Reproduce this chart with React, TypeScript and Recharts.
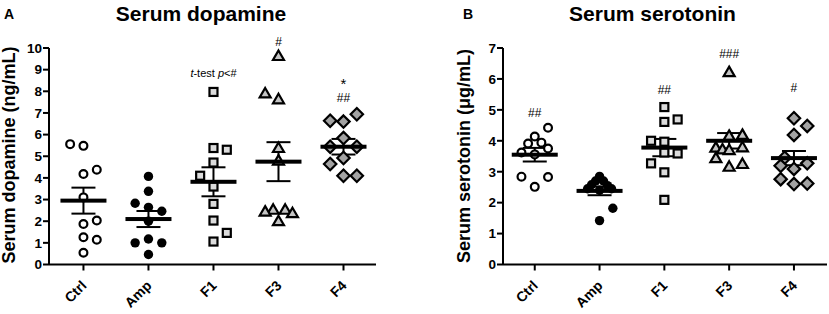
import React from 'react';
import { ScatterChart, Scatter, XAxis, YAxis, ErrorBar, ReferenceDot } from 'recharts';

const FONT = '"Liberation Sans", Arial, Helvetica, sans-serif';

const CATS = ['Ctrl', 'Amp', 'F1', 'F3', 'F4'];

// Panel A: serum dopamine (ng/mL)
const ctrlA = [5.56, 5.48, 4.38, 4.18, 3.1, 2.03, 1.87, 1.26, 1.14, 0.54];
const ctrlASlots = [-1, 0, 1, 0, 0, 1, 0, 0, 1, 0];
const ampA = [4.07, 3.38, 2.83, 2.64, 2.46, 2.0, 1.18, 1.0, 1.0, 0.46];
const ampASlots = [0, 0, -1, 0, 1, 0, 0, -1, 1, 0];
const f1A = [7.97, 5.38, 5.3, 4.71, 4.1, 3.6, 2.8, 2.03, 1.46, 1.06];
const f1ASlots = [0, 0, 1, 0, -1, 0, 0, 0, 1, 0];
const f3A = [9.63, 7.9, 7.63, 5.38, 4.8, 2.53, 2.44, 2.53, 2.37, 2.0];
const f3ASlots = [0, -1, 0, 0, 0, -0.4, -1, 0.5, 1.05, 0];
const f4A = [6.94, 6.64, 6.6, 5.84, 5.44, 5.44, 4.92, 4.64, 4.1, 4.1];
const f4ASlots = [1, -1, 0, 0, -1, 1, 0, -1, 0, 1];
const meanA = [2.95, 2.1, 3.82, 4.75, 5.44];
const semA = [0.6, 0.37, 0.67, 0.9, 0.36];
const yTicksA = [0, 1, 2, 3, 4, 5, 6, 7, 8, 9, 10];
const annCatsA = [2, 3, 4, 4];
const annYA = [8.83, 10.29, 8.37, 7.68];
const annTextA = ['t-test p<#', '#', '*', '##'];

// Panel B: serum serotonin (µg/mL)
const ctrlB = [4.42, 4.14, 3.91, 3.94, 3.62, 3.75, 3.56, 2.84, 2.83, 2.51];
const ctrlBSlots = [1, 0, -0.5, 0.5, -1, 1, 0, -1, 1, 0];
const ampB = [2.85, 2.7, 2.7, 2.58, 2.55, 2.45, 2.45, 2.4, 1.82, 1.42];
const ampBSlots = [0, -0.3, 0.3, -0.6, 0.6, -0.9, 0.9, 0, 1, 0];
const f1B = [5.09, 4.61, 4.69, 4.0, 3.97, 3.62, 3.59, 3.27, 2.98, 2.09];
const f1BSlots = [0, 0, 1, -1, 0, 0, 1, -1, 0, 0];
const f3B = [6.22, 4.19, 4.16, 3.78, 3.72, 3.7, 3.79, 3.44, 3.16, 3.25];
const f3BSlots = [0, 1, 0, -1, -0.5, 0, 1, -1, 0, 1];
const f4B = [4.73, 4.48, 4.19, 3.45, 3.19, 3.09, 3.27, 2.76, 2.6, 2.62];
const f4BSlots = [0, 1, 0, -0.7, -1, 0, 1, -1, 0, 1];
const meanB = [3.55, 2.38, 3.78, 4.0, 3.44];
const semB = [0.22, 0.14, 0.28, 0.25, 0.23];
const yTicksB = [0, 1, 2, 3, 4, 5, 6, 7];
const annCatsB = [0, 2, 3, 4];
const annYB = [4.89, 5.64, 6.81, 5.7];
const annTextB = ['##', '##', '###', '#'];

const SLOT = 0.205;

const toPoints = (cat: number, vals: number[], slots: number[]) =>
  vals.map((v, i) => ({ x: cat + slots[i] * SLOT, y: v }));

const openCircle = (p: any) => (
  <circle cx={p.cx} cy={p.cy} r={3.9} fill="#fff" stroke="#000" strokeWidth={2.2} />
);
const filledCircle = (p: any) => <circle cx={p.cx} cy={p.cy} r={4.7} fill="#000" />;
const square = (p: any) => (
  <rect x={p.cx - 4} y={p.cy - 4} width={8} height={8} fill="#dcdcdc" stroke="#000" strokeWidth={2.2} />
);
const triangle = (p: any) => (
  <polygon
    points={`${p.cx},${p.cy - 5.5} ${p.cx + 5.5},${p.cy + 4} ${p.cx - 5.5},${p.cy + 4}`}
    fill="#c4c4c4"
    stroke="#000"
    strokeWidth={2.2}
    strokeLinejoin="miter"
  />
);
const diamond = (p: any) => (
  <polygon
    points={`${p.cx},${p.cy - 6.2} ${p.cx + 6.2},${p.cy} ${p.cx},${p.cy + 6.2} ${p.cx - 6.2},${p.cy}`}
    fill="#a3a3a3"
    stroke="#000"
    strokeWidth={2.2}
  />
);
const meanBar = (p: any) => <rect x={p.cx - 23} y={p.cy - 2} width={46} height={4} fill="#000" />;

const SHAPES = [openCircle, filledCircle, square, triangle, diamond];

const annShape = (text: string) => (p: any) => {
  const common = {
    x: p.cx,
    y: p.cy,
    textAnchor: 'middle' as const,
    dominantBaseline: 'central' as const,
    fontFamily: FONT,
    fill: '#000',
    fontSize: text === '*' ? 15 : 12,
  };
  if (text.startsWith('t-test')) {
    return (
      <text {...common} fontSize={11}>
        <tspan fontStyle="italic">t</tspan>
        {'-test '}
        <tspan fontStyle="italic">p</tspan>
        {text.slice(8)}
      </text>
    );
  }
  return <text {...common}>{text}</text>;
};

const CatTick = (props: any) => {
  const { x, y, payload } = props;
  const ax = x + 4;
  const ay = y + 14;
  return (
    <text
      x={ax}
      y={ay}
      transform={`rotate(-45, ${ax}, ${ay})`}
      textAnchor="end"
      fontSize={14}
      fontWeight="bold"
      fill="#000"
      fontFamily={FONT}
    >
      {CATS[payload.value]}
    </text>
  );
};

const axisStyle = { stroke: '#000', strokeWidth: 2 };

type PanelProps = {
  groups: { x: number; y: number }[][];
  means: number[];
  sems: number[];
  yMax: number;
  yTicks: number[];
  annCats: number[];
  annY: number[];
  annText: string[];
  width: number;
  left: number;
  right: number;
  xDomain: [number, number];
};

const Panel = (pp: PanelProps) => {
  const meanData = pp.means.map((m, i) => ({ x: i, y: m, e: pp.sems[i] }));
  return (
    <ScatterChart
      width={pp.width}
      height={314}
      margin={{ top: 48, right: pp.right, bottom: 0, left: pp.left }}
    >
      <XAxis
        type="number"
        dataKey="x"
        domain={pp.xDomain}
        ticks={[0, 1, 2, 3, 4]}
        interval={0}
        height={49.5}
        axisLine={axisStyle}
        tickLine={axisStyle}
        tickSize={6}
        tickMargin={2}
        tick={<CatTick />}
      />
      <YAxis
        type="number"
        dataKey="y"
        domain={[0, pp.yMax]}
        ticks={pp.yTicks}
        interval={0}
        width={40}
        axisLine={axisStyle}
        tickLine={axisStyle}
        tickSize={6}
        tickMargin={1}
        tick={{ fill: '#000', fontSize: 13.5, fontWeight: 'bold', fontFamily: FONT }}
      />
      {pp.groups.map((g, i) => (
        <Scatter key={i} data={g} shape={SHAPES[i]} isAnimationActive={false} />
      ))}
      <Scatter data={meanData} shape={meanBar} isAnimationActive={false}>
        <ErrorBar dataKey="e" direction="y" width={12} stroke="#000" strokeWidth={2} />
      </Scatter>
      {pp.annText.map((t, i) => (
        <ReferenceDot
          key={`a${i}`}
          x={pp.annCats[i]}
          y={pp.annY[i]}
          r={0}
          ifOverflow="visible"
          shape={annShape(t)}
        />
      ))}
    </ScatterChart>
  );
};

export default function App() {
  const groupsA = [
    toPoints(0, ctrlA, ctrlASlots),
    toPoints(1, ampA, ampASlots),
    toPoints(2, f1A, f1ASlots),
    toPoints(3, f3A, f3ASlots),
    toPoints(4, f4A, f4ASlots),
  ];
  const groupsB = [
    toPoints(0, ctrlB, ctrlBSlots),
    toPoints(1, ampB, ampBSlots),
    toPoints(2, f1B, f1BSlots),
    toPoints(3, f3B, f3BSlots),
    toPoints(4, f4B, f4BSlots),
  ];
  const bold = { fontFamily: FONT, fontWeight: 'bold' as const, fill: '#000' };
  return (
    <div style={{ position: 'absolute', left: 0, top: 0, width: 829, height: 314, background: '#fff' }}>
      <div style={{ position: 'absolute', left: 0, top: 0 }}>
        <Panel
          groups={groupsA}
          means={meanA}
          sems={semA}
          yMax={10}
          yTicks={yTicksA}
          annCats={annCatsA}
          annY={annYA}
          annText={annTextA}
          width={414}
          left={9}
          right={38}
          xDomain={[-0.53, 4.5]}
        />
      </div>
      <div style={{ position: 'absolute', left: 414, top: 0 }}>
        <Panel
          groups={groupsB}
          means={meanB}
          sems={semB}
          yMax={7}
          yTicks={yTicksB}
          annCats={annCatsB}
          annY={annYB}
          annText={annTextB}
          width={415}
          left={49}
          right={2}
          xDomain={[-0.49, 4.51]}
        />
      </div>
      <svg
        width={829}
        height={314}
        style={{ position: 'absolute', left: 0, top: 0, pointerEvents: 'none' }}
      >
        <text x={4} y={19} fontSize={14} {...bold}>A</text>
        <text x={201} y={21} fontSize={21} textAnchor="middle" {...bold}>Serum dopamine</text>
        <text x={463} y={19} fontSize={14} {...bold}>B</text>
        <text x={652.5} y={21} fontSize={21} textAnchor="middle" {...bold}>Serum serotonin</text>
        <text transform="translate(14.5,155) rotate(-90)" fontSize={18} textAnchor="middle" {...bold}>
          Serum dopamine (ng/mL)
        </text>
        <text transform="translate(470,156) rotate(-90)" fontSize={18} textAnchor="middle" {...bold}>
          Serum serotonin (μg/mL)
        </text>
      </svg>
    </div>
  );
}
